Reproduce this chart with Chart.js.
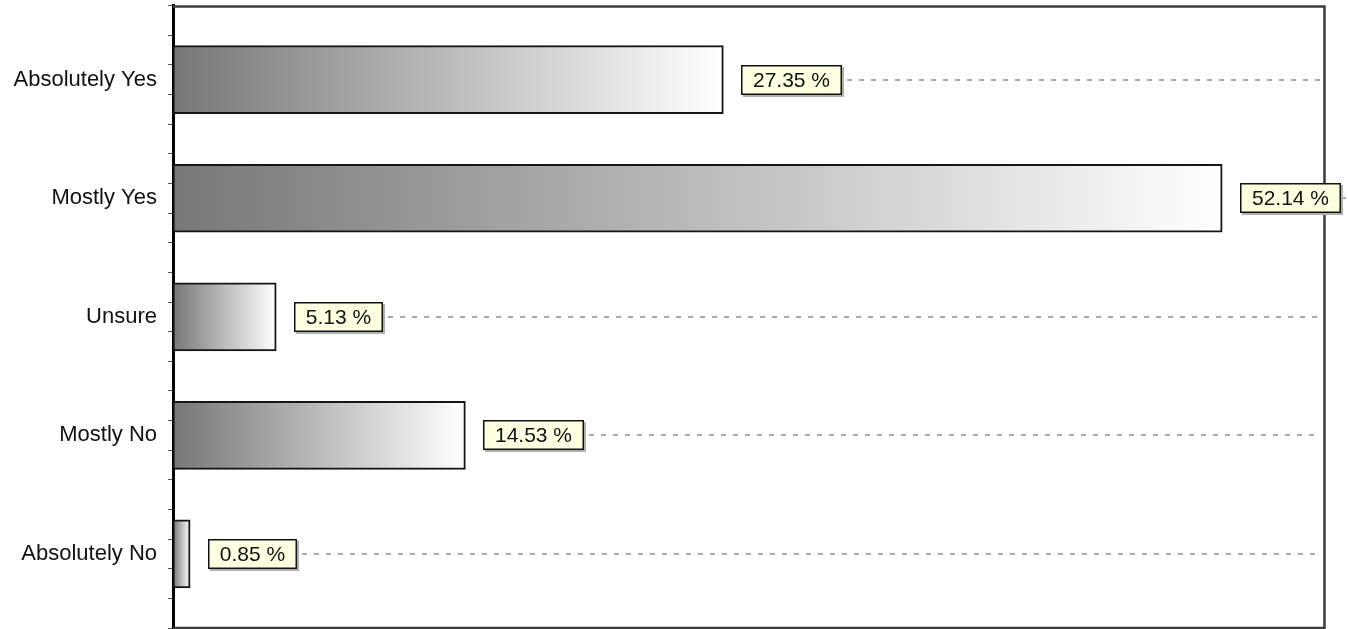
<!DOCTYPE html>
<html>
<head>
<meta charset="utf-8">
<script src="https://cdn.jsdelivr.net/npm/chart.js@4/dist/chart.umd.min.js"></script>
<style>
  html, body { margin: 0; padding: 0; background: #ffffff; }
  #wrap { width: 1348px; height: 629px; position: relative; }
</style>
</head>
<body>
<div id="wrap"><canvas id="answers"></canvas></div>
<script>
// answers and their share, top to bottom
const categories = ["Absolutely Yes", "Mostly Yes", "Unsure", "Mostly No", "Absolutely No"];
const percents = [27.35, 52.14, 5.13, 14.53, 0.85];
const valueLabels = ["27.35 %", "52.14 %", "5.13 %", "14.53 %", "0.85 %"];

const FONT_FAMILY = "'Liberation Sans', Arial, sans-serif";

let points = [];
for (let i = 0; i < categories.length; i++) {
  points.push({ x: percents[i], y: i });
}

// gray to white gradient across each bar
function barGradient(context) {
  const chart = context.chart;
  if (!chart.chartArea || context.raw == null) return "#999";
  const x0 = chart.scales.x.getPixelForValue(0);
  const x1 = chart.scales.x.getPixelForValue(context.raw.x);
  const g = chart.ctx.createLinearGradient(x0, 0, Math.max(x1, x0 + 1), 0);
  g.addColorStop(0, "#777777");
  g.addColorStop(1, "#ffffff");
  return g;
}

// frame around the plot (top, right, bottom)
const framePlugin = {
  id: "frame",
  beforeDatasetsDraw(chart) {
    const ctx = chart.ctx;
    const a = chart.chartArea;
    ctx.save();
    ctx.strokeStyle = "#3c3c3c";
    ctx.lineWidth = 2.5;
    ctx.beginPath();
    ctx.moveTo(a.left, a.top + 1.5);
    ctx.lineTo(a.right - 1.5, a.top + 1.5);
    ctx.lineTo(a.right - 1.5, a.bottom - 1);
    ctx.lineTo(a.left, a.bottom - 1);
    ctx.stroke();
    ctx.restore();
  }
};

// yellow value boxes with dashed leader to the right edge
const valueBoxes = {
  id: "valueBoxes",
  afterDatasetsDraw(chart) {
    const ctx = chart.ctx;
    const a = chart.chartArea;
    const meta = chart.getDatasetMeta(0);
    ctx.save();
    ctx.font = "21px " + FONT_FAMILY;
    meta.data.forEach((bar, i) => {
      const text = valueLabels[i];
      const tw = ctx.measureText(text).width;
      const bx = Math.round(bar.x + 18);
      const by = Math.round(bar.y - 15);
      const bw = Math.round(tw + 24);
      const bh = 30;
      const ly = Math.round(bar.y);

      // dashed line
      ctx.setLineDash([5, 7]);
      ctx.strokeStyle = "#8c8c8c";
      ctx.lineWidth = 1.5;
      ctx.beginPath();
      ctx.moveTo(bx + bw + 5, ly);
      ctx.lineTo(a.right - 5, ly);
      ctx.stroke();
      ctx.setLineDash([]);

      // shadow
      ctx.fillStyle = "#b0b0b0";
      ctx.fillRect(bx + 2, by + 2, bw, bh);
      // box
      ctx.fillStyle = "#ffffe1";
      ctx.fillRect(bx, by, bw, bh);
      ctx.strokeStyle = "#111111";
      ctx.lineWidth = 1.5;
      ctx.strokeRect(bx + 0.75, by + 0.75, bw - 1.5, bh - 1.5);

      ctx.fillStyle = "#111111";
      ctx.textAlign = "center";
      ctx.textBaseline = "middle";
      ctx.fillText(text, bx + bw / 2, by + bh / 2 + 1);
    });
    ctx.restore();
  }
};

const config = {
  type: "bar",
  data: {
    datasets: [
      {
        data: points,
        backgroundColor: barGradient,
        borderColor: "#151515",
        borderWidth: 2,
        borderSkipped: false,
        barThickness: 68,
      },
    ],
  },
  options: {
    indexAxis: "y",
    responsive: true,
    maintainAspectRatio: false,
    animation: false,
    layout: { padding: { top: 5, right: 22, bottom: 0, left: 0 } },
    plugins: {
      legend: { display: false },
      tooltip: { enabled: false },
    },
    scales: {
      x: {
        type: "linear",
        display: false,
        min: 0,
        max: 57.3,
      },
      y: {
        type: "linear",
        reverse: true,
        offset: false,
        min: -0.63,
        max: 4.633,
        afterBuildTicks: (scale) => {
          let ticks = [];
          for (let v = -0.5; v <= 4.5; v += 0.25) ticks.push({ value: v });
          scale.ticks = ticks;
        },
        afterFit: (scale) => {
          scale.width = 173;
          scale.paddingTop = 0;
          scale.paddingBottom = 0;
        },
        border: { display: true, color: "#000000", width: 3 },
        grid: {
          drawOnChartArea: false,
          drawTicks: true,
          tickLength: 5,
          color: "#555555",
          lineWidth: 1,
        },
        ticks: {
          autoSkip: false,
          padding: 11,
          color: "#111111",
          font: { family: FONT_FAMILY, size: 22 },
          callback: (value) => {
            if (Number.isInteger(value) && value >= 0 && value < categories.length) {
              return categories[value];
            }
            return "";
          },
        },
      },
    },
  },
  plugins: [framePlugin, valueBoxes],
};

new Chart(document.getElementById("answers"), config);
</script>
</body>
</html>
